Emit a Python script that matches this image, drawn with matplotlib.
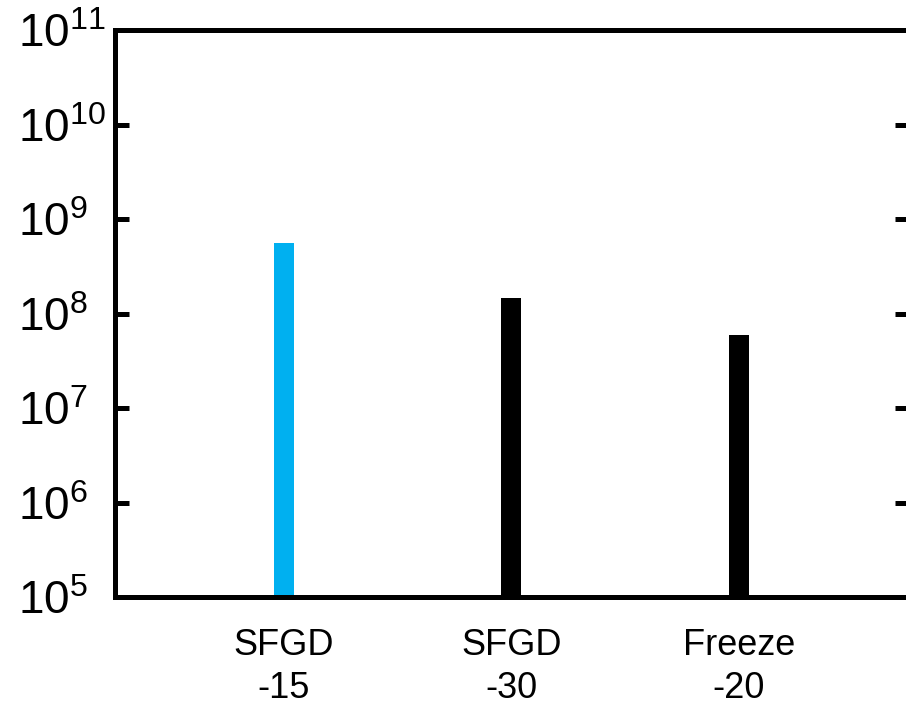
import matplotlib
matplotlib.use("Agg")
import matplotlib.pyplot as plt

plt.rcParams['font.family'] = ['Liberation Sans', 'DejaVu Sans']
plt.rcParams['mathtext.fontset'] = 'custom'
plt.rcParams['mathtext.rm'] = 'Liberation Sans'
plt.rcParams['mathtext.it'] = 'Liberation Sans'

categories = ['SFGD\n-15', 'SFGD\n-30', 'Freeze\n-20']
values = [5.6e8, 1.45e8, 6.0e7]
colors = ['#00B0F0', 'black', 'black']

fig = plt.figure(figsize=(9.06, 7.05), dpi=100)
ax = fig.add_axes([0.127, 0.153, 0.876, 0.804])

x = [1, 2, 3]
ax.bar(x, values, width=0.088, color=colors, bottom=1e5)
ax.set_yscale('log')
ax.set_ylim(1e5, 1e11)
ax.set_xlim(0.26, 3.745)

ax.set_xticks(x)
ax.set_xticklabels(categories, fontsize=26, linespacing=1.3)
ax.tick_params(axis='x', length=0, pad=22)
ax.set_yticks([1e5, 1e6, 1e7, 1e8, 1e9, 1e10, 1e11])
ax.tick_params(axis='y', which='major', direction='in', length=10, width=3.6,
               labelsize=33, pad=70, right=True)
ax.tick_params(axis='y', which='minor', left=False, right=False)
for lab in ax.get_yticklabels():
    lab.set_horizontalalignment('left')

for s in ax.spines.values():
    s.set_linewidth(3.6)

fig.savefig('out.png', dpi=100)
